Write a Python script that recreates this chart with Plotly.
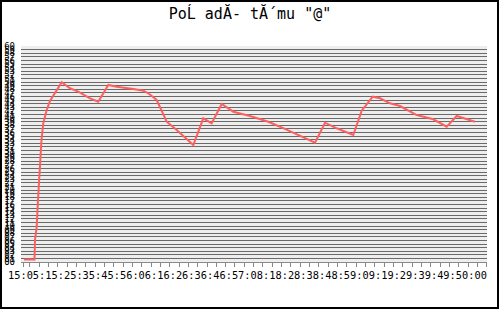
import plotly.graph_objects as go

TITLE = 'PoĹ adĂ- tĂ´mu "@"'

# time axis (label units) and measured values
x_vals = [-0.31, 0.255, 0.282, 0.373, 0.443, 0.496, 0.587, 0.630, 0.727, 0.909,
          1.086, 1.263, 1.407, 1.584, 1.713, 2.158, 2.602, 3.229, 3.674, 4.210,
          4.660, 5.550, 6.086, 6.354, 6.804, 7.340, 7.876, 8.765, 9.301, 9.751,
          10.287, 10.909, 11.804, 12.785, 13.412, 15.288, 15.824, 16.450, 17.340,
          17.790, 18.380, 18.771, 19.307, 19.843, 20.737, 21.627, 22.345, 22.881,
          23.862]
y_vals = [0.69, 0.69, 6.11, 9.81, 17.22, 22.78, 31.11, 33.89, 38.53, 42.22,
          44.72, 46.11, 47.5, 48.69, 49.92, 48.25, 47.31, 45.47, 44.53, 49.17,
          48.69, 48.06, 47.58, 46.86, 45.0, 38.97, 36.67, 32.5, 39.92, 38.53,
          43.89, 41.75, 40.56, 38.97, 37.58, 33.14, 38.69, 37.14, 35.28, 42.03,
          45.92, 45.47, 44.08, 43.33, 40.83, 39.64, 37.58, 40.56, 38.97]

x_tick_vals = [-0.332] + list(range(1, 25))
x_tick_text = ["15:05", ":15", ":25", ":35", ":45", ":56", ":06", ":16", ":26",
               ":36", ":46", ":57", ":08", ":18", ":28", ":38", ":48", ":59",
               ":09", ":19", ":29", ":39", ":49", ":50", ":00"]

L, R, T, B = 21, 13, 46, 47
W, H = 500, 309
pw, ph = W - L - R, H - T - B

fig = go.Figure()
fig.add_trace(go.Scatter(x=x_vals, y=y_vals, mode="lines",
                         line=dict(color="#ff5f5f", width=2),
                         hoverinfo="skip", showlegend=False))

fig.update_layout(
    width=W, height=H,
    margin=dict(l=L, r=R, t=T, b=B, autoexpand=False),
    paper_bgcolor="white",
    plot_bgcolor="#eeeeee",
    title=dict(text=TITLE, x=0.5, xanchor="center", y=1 - 14 / H, yanchor="middle",
               font=dict(family="DejaVu Sans Mono", size=15, color="black")),
    xaxis=dict(range=[-0.468, 24.505], tickvals=x_tick_vals, ticktext=x_tick_text,
               tickangle=0, automargin=False,
               showgrid=False, zeroline=False, showline=True, linecolor="#888888",
               linewidth=1, ticks="outside", ticklen=4, tickcolor="#888888",
               minor=dict(dtick=0.5, tick0=0, ticks="outside", ticklen=4,
                          tickcolor="#888888", showgrid=False),
               tickfont=dict(family="DejaVu Sans Mono", size=10.3, color="black"),
               fixedrange=True),
    yaxis=dict(range=[0, 60], dtick=1, tick0=0, tickformat="02d", automargin=False,
               showgrid=True, gridcolor="#6a6a6a", gridwidth=1, zeroline=False,
               showline=False, ticks="", ticklabelstandoff=5,
               tickfont=dict(family="DejaVu Sans Mono", size=9, color="black"),
               fixedrange=True),
    shapes=[dict(type="rect", xref="paper", yref="paper",
                 x0=-20 / pw, x1=(498 - L) / pw,
                 y0=-(308 - (T + ph)) / ph, y1=(T + ph - 1) / ph,
                 line=dict(color="black", width=2), layer="above")],
)

fig.write_html("out.html")
